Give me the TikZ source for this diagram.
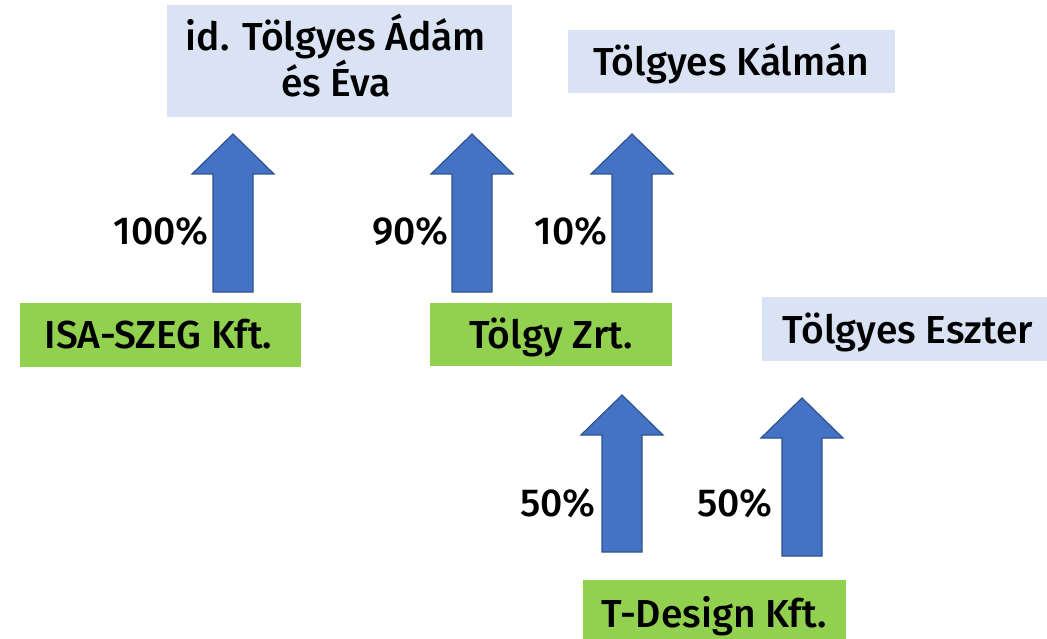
\documentclass[tikz,border=0pt]{standalone}
\usepackage{fontspec}
\setmainfont{Fira Sans}[UprightFont={* Medium}]
\begin{document}
\begin{tikzpicture}[x=1pt,y=1pt,
  lbl/.style={font=\fontsize{39}{44}\selectfont, inner sep=0pt},
  box/.style={lbl, text height=28pt, text depth=0pt},
  person/.style={box, fill=personfill},
  firm/.style={box, fill=firmfill},
  pct/.style={lbl, anchor=base east},
  blockarrow/.style={fill=arrowfill, draw=arrowline, line width=1.2pt, line join=miter}]
\definecolor{personfill}{HTML}{DAE3F3}
\definecolor{firmfill}{HTML}{92D050}
\definecolor{arrowfill}{HTML}{4472C4}
\definecolor{arrowline}{HTML}{2F528F}
\useasboundingbox (0,0) rectangle (1047,-639);

% owners and companies
\node[person, minimum width=345pt, minimum height=112pt] (adam) at (339.5,-61) {};
\node[lbl, align=center, anchor=base] (adamtext) at (336,-97) {id. Tölgyes Ádám\\[0pt]és Éva};
\node[person, minimum width=327pt, minimum height=63pt] (kalman) at (731.5,-61.5) {Tölgyes Kálmán};
\node[person, minimum width=285pt, minimum height=64pt] (eszter) at (904.5,-328.5) {};
\node[lbl, anchor=base] (eszter text) at (908,-343) {Tölgyes Eszter};
\node[firm, minimum width=281pt, minimum height=64pt] (isa) at (160.5,-334.5) {};
\node[lbl, anchor=base] (isatext) at (158.5,-348) {ISA-SZEG Kft.};
\node[firm, minimum width=242pt, minimum height=63pt] (tolgy) at (551,-334.5) {Tölgy Zrt.};
\node[firm, minimum width=263pt, minimum height=59pt] (tdesign) at (714.5,-609.5) {};
\node[lbl, anchor=base] (tdesigntext) at (714,-627) {T-Design Kft.};

% ownership arrows: centre x, tip y, foot y
\newcommand\ownarrow[3]{%
  \draw[blockarrow] (#1-20,-#3) -- (#1+20,-#3) -- (#1+20,-#2-40) -- (#1+41,-#2-40)
    -- (#1,-#2) -- (#1-41,-#2-40) -- (#1-20,-#2-40) -- cycle;}
\ownarrow{233}{134}{292}
\ownarrow{472}{134}{292}
\ownarrow{632}{134}{292}
\ownarrow{622}{395}{552}
\ownarrow{802}{398}{556}

% shares
\node[pct] (p1) at (209,-245) {100\%};
\node[pct] (p2) at (449,-245) {90\%};
\node[pct] (p3) at (608,-245) {10\%};
\node[pct] (p4) at (596,-516) {50\%};
\node[pct] (p5) at (773,-516) {50\%};
\end{tikzpicture}
\end{document}
